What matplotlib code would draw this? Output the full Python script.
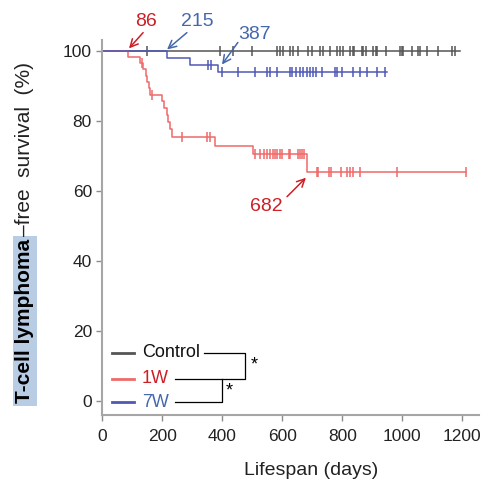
import numpy as np
import matplotlib
matplotlib.use("Agg")
from matplotlib import pyplot as plt

plt.rcParams['font.family'] = ['Liberation Sans', 'DejaVu Sans']

# Control: no events, only censored mice
ctrl_end = 1193
ctrl_censor = [148, 392, 437, 498, 581, 592, 604, 626, 637, 653, 687, 698, 726, 737,
               759, 781, 792, 803, 826, 835, 839, 865, 870, 879, 903, 912, 917, 946,
               992, 998, 1003, 1031, 1053, 1059, 1083, 1120, 1165, 1176]

# 1W: step times (days) and survival (%) after each step
w1_days = [86, 125, 136, 145, 150, 155, 160, 200, 207, 215, 219, 225, 232, 377, 504, 682]
w1_surv = [98.2, 96.4, 94.6, 92.8, 91.0, 89.2, 87.4, 85.5, 83.6, 81.6, 79.6, 77.6, 75.3,
           72.7, 70.5, 65.3]
w1_end = 1212
w1_censor = [132, 165, 265, 349, 358, 510, 527, 538, 549, 560, 569, 577, 582, 591, 599,
             623, 627, 654, 660, 666, 671, 716, 720, 756, 762, 796, 817, 826, 835, 860,
             982, 1212]

# 7W
w7_days = [215, 293, 387]
w7_surv = [97.9, 95.8, 93.8]
w7_end = 950
w7_censor = [351, 362, 398, 453, 510, 549, 560, 582, 626, 631, 647, 659, 670, 681, 692,
             703, 714, 731, 776, 784, 799, 836, 860, 882, 915, 944]

c_ctrl = '#555555'
c_red = '#ef6a6a'
c_blue = '#4f58b5'
t_red = '#cc1f26'
t_blue = '#4568ad'


def km_xy(days, surv, end):
    x = [0] + list(days) + [end]
    y = [100] + list(surv) + [surv[-1] if len(surv) else 100]
    return x, y


def level_at(days, surv, t):
    lv = 100
    for d, s in zip(days, surv):
        if d <= t:
            lv = s
    return lv


fig = plt.figure(figsize=(4.97, 4.87), dpi=100)
ax = fig.add_axes([102.3 / 497, 72 / 487, (479 - 102.3) / 497, (415 - 40) / 487])

groups = [([], [], ctrl_end, ctrl_censor, c_ctrl),
          (w1_days, w1_surv, w1_end, w1_censor, c_red),
          (w7_days, w7_surv, w7_end, w7_censor, c_blue)]
for days, surv, end, cens, col in groups:
    x, y = km_xy(days, surv, end)
    ax.step(x, y, where='post', color=col, lw=1.1)
    cy = [level_at(days, surv, t) for t in cens]
    ax.plot(cens, cy, ls='none', marker='|', ms=7, mew=1.1, color=col)

ax.set_xlim(0, 1256)
ax.set_ylim(-4, 103)
ax.set_xticks(range(0, 1201, 200))
ax.set_yticks(range(0, 101, 20))
for s in ['top', 'right']:
    ax.spines[s].set_visible(False)
for s in ['left', 'bottom']:
    ax.spines[s].set_color('#a6a6a6')
    ax.spines[s].set_linewidth(1.5)
ax.tick_params(colors='#8c8c8c', length=4, width=1, labelsize=12.5, labelcolor='#222222')
ax.tick_params(axis='x', pad=6)
ax.set_xlabel('Lifespan (days)', fontsize=14, color='#222222')
ax.xaxis.set_label_coords(0.555, -0.125)

# event annotations
arw = dict(arrowstyle='->', lw=1.1, mutation_scale=14, shrinkA=0, shrinkB=0)
notes = [('86', 146, 108.3, 136, 105.1, 89, 100.6, t_red),
         ('215', 316, 108.3, 282, 105.1, 216, 100.3, t_blue),
         ('387', 509, 104.6, 452, 102.3, 399, 96.0, t_blue),
         ('682', 546, 55.4, 616, 58.3, 679, 63.7, t_red)]
for lab, tx, ty, ax0, ay0, ax1, ay1, col in notes:
    ax.annotate('', xy=(ax1, ay1), xytext=(ax0, ay0),
                arrowprops=dict(arw, color=col), annotation_clip=False)
    ax.text(tx, ty, lab, color=col, fontsize=14, ha='center', va='center', clip_on=False)

# legend with significance brackets
leg = [('Control', 13.7, c_ctrl, '#111111'), ('1W', 6.3, c_red, t_red),
       ('7W', -0.3, c_blue, t_blue)]
for lab, yy, lc, tc in leg:
    ax.plot([32, 105], [yy, yy], color=lc, lw=2, clip_on=False)
    ax.text(132, yy, lab, color=tc, fontsize=13, va='center', ha='left')
ax.plot([338, 476, 476, 243], [13.7, 13.7, 6.3, 6.3], color='black', lw=0.9)
ax.plot([243, 399, 399], [-0.3, -0.3, 6.3], color='black', lw=0.9, clip_on=False)
ax.text(505, 10.2, '*', fontsize=13, ha='center', va='center')
ax.text(424, 2.8, '*', fontsize=13, ha='center', va='center')

# y label: highlighted bold part + plain part
t1 = fig.text(25 / 497, (487 - 403) / 487, 'T-cell lymphoma', rotation=90, fontsize=15,
              fontweight='bold', ha='center', va='bottom', color='black',
              bbox=dict(boxstyle='square,pad=0.12', fc='#b8cce4', ec='none'))
fig.canvas.draw()
bb = t1.get_bbox_patch().get_window_extent()
fig.text(25 / 497, bb.y1 / fig.bbox.height, '\u2013free  survival  (%)', rotation=90,
         fontsize=15, ha='center', va='bottom', color='#222222')

fig.savefig('out.png', dpi=100)
